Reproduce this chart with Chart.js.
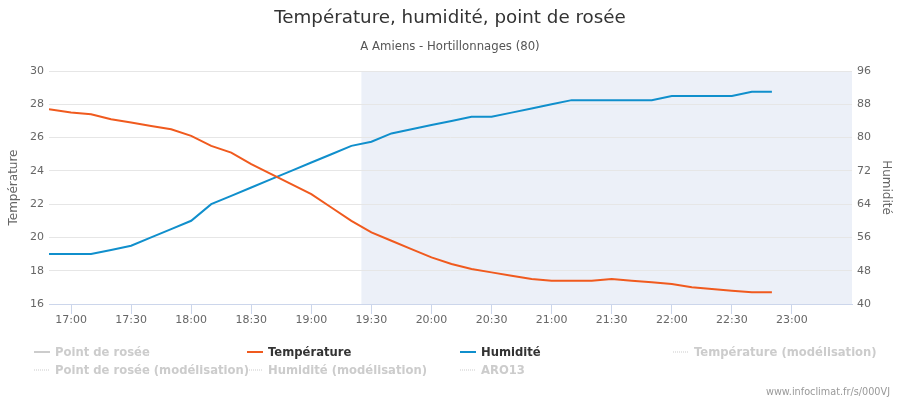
<!DOCTYPE html>
<html>
<head>
<meta charset="utf-8">
<title>Température, humidité, point de rosée</title>
<script src="https://cdn.jsdelivr.net/npm/chart.js@4.4.1/dist/chart.umd.min.js"></script>
<style>
html, body { margin: 0; padding: 0; background: #fff; }
#wrap { width: 900px; height: 400px; position: relative; }
</style>
</head>
<body>
<div id="wrap"><canvas id="meteoChart" width="900" height="400"></canvas></div>
<script>
"use strict";

// observation times (local)
var times = ['16:49', '17:00', '17:10', '17:20', '17:30', '17:40', '17:50',
    '18:00', '18:10', '18:20', '18:30', '18:40', '18:50',
    '19:00', '19:10', '19:20', '19:30', '19:40', '19:50',
    '20:00', '20:10', '20:20', '20:30', '20:40', '20:50',
    '21:00', '21:10', '21:20', '21:30', '21:40', '21:50',
    '22:00', '22:10', '22:20', '22:30', '22:40', '22:50'];

var temperature = [27.7, 27.5, 27.4, 27.1, 26.9, 26.7, 26.5,
    26.1, 25.5, 25.1, 24.4, 23.8, 23.2,
    22.6, 21.8, 21.0, 20.3, 19.8, 19.3,
    18.8, 18.4, 18.1, 17.9, 17.7, 17.5,
    17.4, 17.4, 17.4, 17.5, 17.4, 17.3,
    17.2, 17.0, 16.9, 16.8, 16.7, 16.7];

var humidity = [52, 52, 52, 53, 54, 56, 58,
    60, 64, 66, 68, 70, 72,
    74, 76, 78, 79, 81, 82,
    83, 84, 85, 85, 86, 87,
    88, 89, 89, 89, 89, 89,
    90, 90, 90, 90, 91, 91];

var tickTimes = ['17:00', '17:30', '18:00', '18:30', '19:00', '19:30', '20:00',
    '20:30', '21:00', '21:30', '22:00', '22:30', '23:00'];

var seriesNames = ['Point de rosée', 'Température', 'Humidité', 'Température (modélisation)',
    'Point de rosée (modélisation)', 'Humidité (modélisation)', 'ARO13'];

var axisStart = '16:49';
var axisEnd = '23:30';
var bandStart = '19:25';

var chartTitle = 'Température, humidité, point de rosée';
var chartSubtitle = 'A Amiens - Hortillonnages (80)';
var creditText = 'www.infoclimat.fr/s/000VJ';

function toMinutes(t) {
    var p = t.split(':');
    return parseInt(p[0], 10) * 60 + parseInt(p[1], 10);
}

function toPoints(values) {
    return values.map(function (v, i) {
        return {x: toMinutes(times[i]), y: v};
    });
}

var FONT = "'DejaVu Sans', 'Liberation Sans', sans-serif";
Chart.defaults.font.family = FONT;

// plot band, drawn under the grid
var plotBand = {
    id: 'plotBand',
    beforeDraw: function (chart) {
        var ctx = chart.ctx;
        var area = chart.chartArea;
        var x0 = chart.scales.x.getPixelForValue(toMinutes(bandStart));
        ctx.save();
        ctx.fillStyle = '#ecf0f8';
        ctx.fillRect(x0, area.top, area.right - x0, area.bottom - area.top);
        ctx.restore();
    }
};

// titles, legend and credits in Highcharts style
var decorations = {
    id: 'decorations',
    afterDraw: function (chart) {
        var ctx = chart.ctx;
        ctx.save();
        ctx.textBaseline = 'middle';
        ctx.textAlign = 'center';
        ctx.fillStyle = '#333333';
        ctx.font = '18.3px ' + FONT;
        ctx.fillText(chartTitle, 450, 18);
        ctx.fillStyle = '#555555';
        ctx.font = '11.7px ' + FONT;
        ctx.fillText(chartSubtitle, 450, 47);

        ctx.textAlign = 'left';
        ctx.font = 'bold 11.6px ' + FONT;
        chart.data.datasets.forEach(function (ds, i) {
            var col = i % 4;
            var row = Math.floor(i / 4);
            var x = 34 + col * 213;
            var y = 352 + row * 18;
            var visible = chart.isDatasetVisible(i);
            ctx.beginPath();
            if (ds.borderDash && ds.borderDash.length) {
                ctx.setLineDash([1, 1]);
                ctx.lineWidth = 1;
            } else {
                ctx.setLineDash([]);
                ctx.lineWidth = 2;
            }
            ctx.strokeStyle = visible ? ds.borderColor : '#cccccc';
            ctx.moveTo(x, y);
            ctx.lineTo(x + 16, y);
            ctx.stroke();
            ctx.fillStyle = visible ? '#333333' : '#cccccc';
            ctx.fillText(ds.label, x + 21, y + 1);
        });

        ctx.setLineDash([]);
        ctx.textAlign = 'right';
        ctx.fillStyle = '#999999';
        ctx.font = '9.7px ' + FONT;
        ctx.fillText(creditText, 890, 392);
        ctx.restore();
    }
};

var ctx = document.getElementById('meteoChart').getContext('2d');
new Chart(ctx, {
    type: 'line',
    data: {
        datasets: [
            {label: seriesNames[0], data: [], hidden: true, borderColor: '#b0b0b0', yAxisID: 'yTemp'},
            {label: seriesNames[1], data: toPoints(temperature), borderColor: '#f05a1e', yAxisID: 'yTemp'},
            {label: seriesNames[2], data: toPoints(humidity), borderColor: '#108fcc', yAxisID: 'yHum'},
            {label: seriesNames[3], data: [], hidden: true, borderColor: '#f05a1e', borderDash: [1, 1], yAxisID: 'yTemp'},
            {label: seriesNames[4], data: [], hidden: true, borderColor: '#b0b0b0', borderDash: [1, 1], yAxisID: 'yTemp'},
            {label: seriesNames[5], data: [], hidden: true, borderColor: '#108fcc', borderDash: [1, 1], yAxisID: 'yHum'},
            {label: seriesNames[6], data: [], hidden: true, borderColor: '#888888', borderDash: [1, 1], yAxisID: 'yTemp'}
        ]
    },
    options: {
        responsive: false,
        animation: false,
        devicePixelRatio: 1,
        layout: {padding: {top: 71, left: 0, right: 0, bottom: 0}},
        elements: {
            line: {borderWidth: 2, tension: 0},
            point: {radius: 0, hoverRadius: 0}
        },
        plugins: {
            legend: {display: false},
            title: {display: false},
            tooltip: {enabled: false}
        },
        scales: {
            x: {
                type: 'linear',
                min: toMinutes(axisStart),
                max: toMinutes(axisEnd),
                afterBuildTicks: function (scale) {
                    scale.ticks = tickTimes.map(function (t) {
                        return {value: toMinutes(t)};
                    });
                },
                afterFit: function (scale) {
                    scale.height = 96;
                },
                ticks: {
                    autoSkip: false,
                    maxRotation: 0,
                    padding: 0,
                    color: '#666666',
                    font: {size: 11},
                    callback: function (value, index) {
                        return tickTimes[index];
                    }
                },
                grid: {drawOnChartArea: false, color: '#ccd6eb', tickLength: 10},
                border: {color: '#ccd6eb'}
            },
            yTemp: {
                position: 'left',
                min: 16,
                max: 30,
                afterFit: function (scale) {
                    scale.width = 49;
                },
                ticks: {stepSize: 2, padding: 5, color: '#666666', font: {size: 11}},
                grid: {color: '#e6e6e6', drawTicks: false},
                border: {display: false},
                title: {display: true, text: 'Température', color: '#666666', font: {size: 12}, padding: {top: 7, bottom: 0}}
            },
            yHum: {
                position: 'right',
                min: 40,
                max: 96,
                afterFit: function (scale) {
                    scale.width = 48;
                },
                ticks: {stepSize: 8, padding: 5, color: '#666666', font: {size: 11}},
                grid: {drawOnChartArea: false, drawTicks: false},
                border: {display: false},
                title: {display: true, text: 'Humidité', color: '#666666', font: {size: 12}, padding: {top: 7, bottom: 0}}
            }
        }
    },
    plugins: [plotBand, decorations]
});
</script>
</body>
</html>
